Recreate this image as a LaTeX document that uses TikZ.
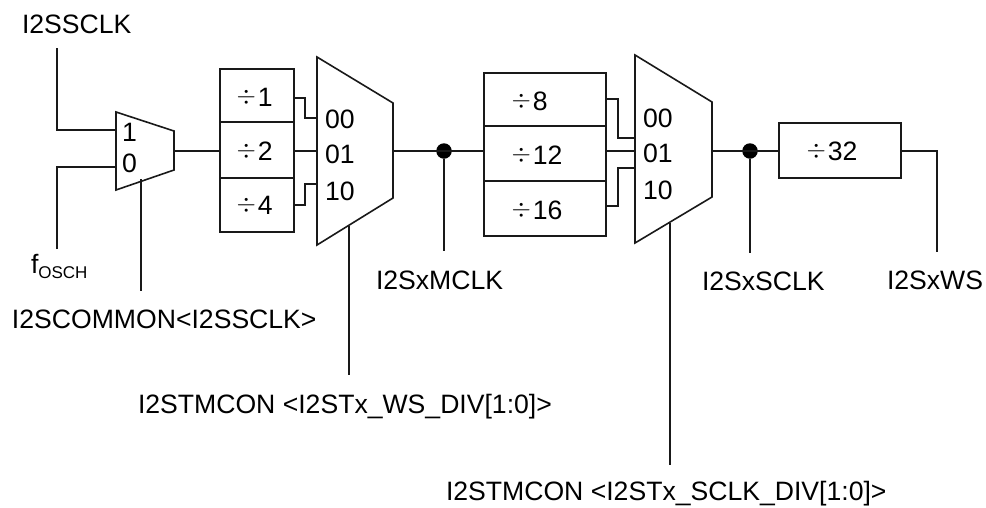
\documentclass[tikz,border=0pt]{standalone}
\usepackage{fontspec}
\setmainfont{Liberation Sans}
\newcommand{\dv}{\raisebox{2.5pt}{\fontsize{30}{30}\selectfont$\div$}\kern2pt}
\tikzset{
  wire/.style={line width=1.5pt,line cap=butt,line join=miter,draw=black!90},
  muxshape/.style={line width=1.6pt,line join=miter,draw=black!90},
  divbox/.style={draw=black!90,line width=1.6pt,inner sep=0pt,outer sep=0pt},
  lab/.style={inner sep=0pt,outer sep=0pt,anchor=base west,font=\fontsize{26.6}{30}\selectfont},
  dot/.style={circle,fill=black,inner sep=0pt,minimum size=15.5pt}
}
\begin{document}
\begin{tikzpicture}[x=1pt,y=-1pt]
\useasboundingbox (0,0) rectangle (986,507);
% labels
\node[lab] (lclk) at (22,33) {I2SSCLK};
\node[lab] (losc) at (31,273) {f\raisebox{-5pt}{\fontsize{17}{20}\selectfont OSCH}};
\node[lab] (lcom) at (12,328) {I2SCOMMON<I2SSCLK>};
\node[lab] (lws) at (138,413) {I2STMCON <I2STx\_WS\_DIV[1:0]>};
\node[lab] (lsck) at (446,500) {I2STMCON <I2STx\_SCLK\_DIV[1:0]>};
\node[lab] (lm) at (376,289) {I2SxMCLK};
\node[lab] (ls) at (702,290) {I2SxSCLK};
\node[lab] (lw) at (887,289) {I2SxWS};
% coordinates of free ends and muxes
\coordinate (clkTop) at (57,48);
\coordinate (clkBend) at (57,130);
\coordinate (oscEnd) at (57,249);
\coordinate (oscBend) at (57,167);
\coordinate (m1a) at (116,112);
\coordinate (m1b) at (174,131);
\coordinate (m1c) at (174,170);
\coordinate (m1d) at (116,190);
\coordinate (m1in1) at (116,130);
\coordinate (m1in0) at (116,167);
\coordinate (m1out) at (174,151);
\coordinate (m1ctl) at (141,179);
\coordinate (m1ctlE) at (141,291);
\coordinate (m2a) at (317,57);
\coordinate (m2b) at (393,103);
\coordinate (m2c) at (393,198);
\coordinate (m2d) at (317,245);
\coordinate (m2i0) at (317,118);
\coordinate (m2i1) at (317,151);
\coordinate (m2i2) at (317,184);
\coordinate (m2out) at (393,151);
\coordinate (m2ctl) at (349,226);
\coordinate (m2ctlE) at (349,375);
\coordinate (m3a) at (635,55);
\coordinate (m3b) at (712,102);
\coordinate (m3c) at (712,197);
\coordinate (m3d) at (635,243);
\coordinate (m3i0) at (635,138);
\coordinate (m3i1) at (635,151);
\coordinate (m3i2) at (635,168);
\coordinate (m3out) at (712,151);
\coordinate (m3ctl) at (670,223);
\coordinate (m3ctlE) at (670,465);
\coordinate (sEnd) at (750,253);
\coordinate (wBend) at (937,151);
\coordinate (wEnd) at (937,252);
% mux shapes
\draw[muxshape] (m1a)--(m1b)--(m1c)--(m1d)--cycle;
\draw[muxshape] (m2a)--(m2b)--(m2c)--(m2d)--cycle;
\draw[muxshape] (m3a)--(m3b)--(m3c)--(m3d)--cycle;
% divider boxes
\node[divbox,minimum width=74pt,minimum height=53pt] (d1) at (257,95.5) {};
\node[divbox,minimum width=74pt,minimum height=56pt] (d2) at (257,150) {};
\node[divbox,minimum width=74pt,minimum height=54pt] (d4) at (257,205) {};
\node[divbox,minimum width=122pt,minimum height=53pt] (d8) at (545,99.5) {};
\node[divbox,minimum width=122pt,minimum height=55pt] (d12) at (545,153.5) {};
\node[divbox,minimum width=122pt,minimum height=55pt] (d16) at (545,208.5) {};
\node[divbox,minimum width=122pt,minimum height=55pt] (d32) at (840,150.5) {};
% box texts
\node[lab] (t1) at (236.5,106) {\dv 1};
\node[lab] (t2) at (236.5,160) {\dv 2};
\node[lab] (t4) at (236.5,214) {\dv 4};
\node[lab] (t8) at (511.5,110) {\dv 8};
\node[lab] (t12) at (511.5,164) {\dv 12};
\node[lab] (t16) at (511.5,219) {\dv 16};
\node[lab] (t32) at (806.5,160) {\dv 32};
% mux texts
\node[lab] (a1) at (122,141) {1};
\node[lab] (a0) at (122,172) {0};
\node[lab] (b0) at (325,128) {00};
\node[lab] (b1) at (325,163) {01};
\node[lab] (b2) at (325,200) {10};
\node[lab] (c0) at (643,127) {00};
\node[lab] (c1) at (643,162) {01};
\node[lab] (c2) at (643,199) {10};
% dots
\node[dot] (j1) at (444,151) {};
\node[dot] (j2) at (750,151) {};
\coordinate (mEnd) at (444,251);
% wires
\draw[wire] (clkTop)--(clkBend)--(m1in1);
\draw[wire] (oscEnd)--(oscBend)--(m1in0);
\draw[wire] (m1ctl)--(m1ctlE);
\draw[wire] (m1out)--(d2.west|-m1out);
\draw[wire] (d1.east|-0,98)--(305,98)--(305,118)--(m2i0);
\draw[wire] (d2.east|-m2i1)--(m2i1);
\draw[wire] (d4.east)--(305,205)--(305,184)--(m2i2);
\draw[wire] (m2ctl)--(m2ctlE);
\draw[wire] (m2out)--(d12.west|-m2out);
\draw[wire] (j1)--(mEnd);
\draw[wire] (d8.east|-0,99)--(618,99)--(618,138)--(m3i0);
\draw[wire] (d12.east|-m3i1)--(m3i1);
\draw[wire] (d16.east|-0,206)--(618,206)--(618,168)--(m3i2);
\draw[wire] (m3ctl)--(m3ctlE);
\draw[wire] (m3out)--(d32.west|-m3out);
\draw[wire] (j2)--(sEnd);
\draw[wire] (d32.east|-wBend)--(wBend)--(wEnd);
\end{tikzpicture}
\end{document}
